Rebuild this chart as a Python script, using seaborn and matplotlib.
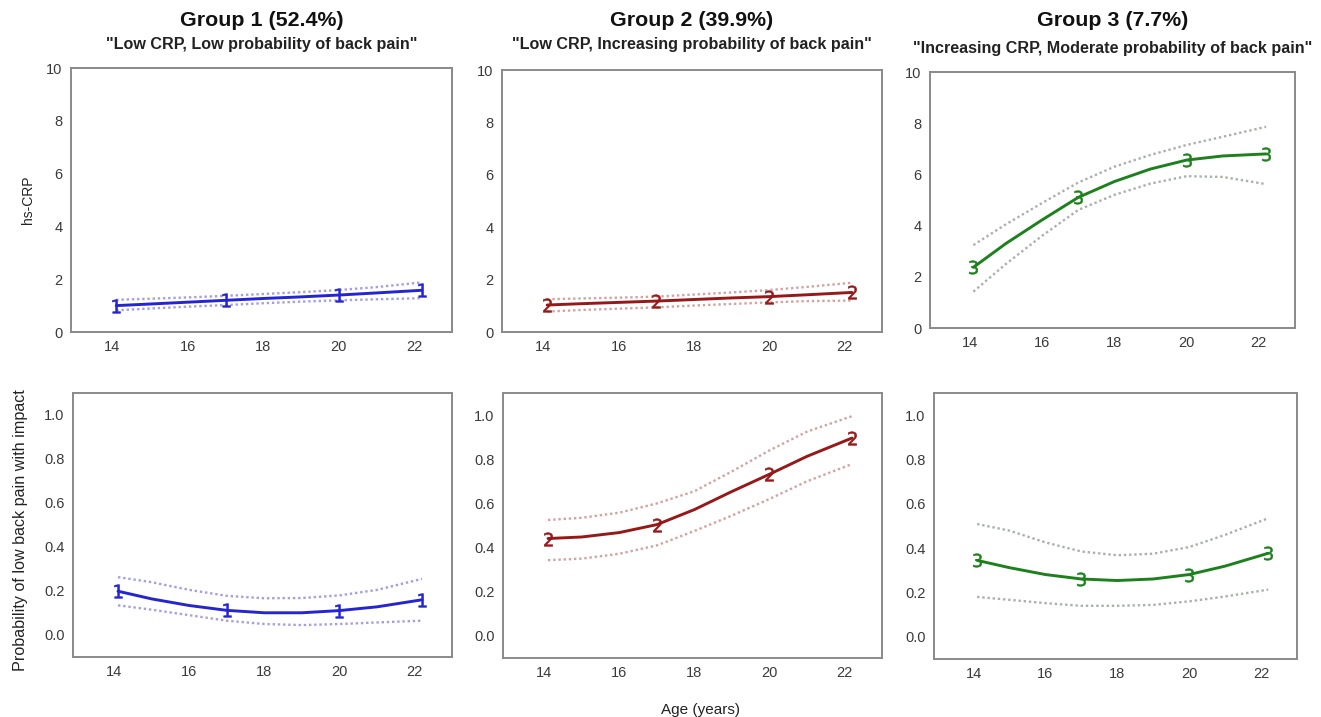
import matplotlib
matplotlib.use("Agg")
import matplotlib.pyplot as plt
import seaborn as sns

# Ages at which each fitted trajectory is drawn, and the survey waves that get a group marker
ages = [14.1, 15, 16, 17, 18, 19, 20, 21, 22.2]
waves = [14.1, 17.0, 20.0, 22.2]

group_titles = ["Group 1 (52.4%)", "Group 2 (39.9%)", "Group 3 (7.7%)"]
group_subtitles = [
    '"Low CRP, Low probability of back pain"',
    '"Low CRP, Increasing probability of back pain"',
    '"Increasing CRP, Moderate probability of back pain"',
]

# hs-CRP trajectories (estimate, lower and upper 95% limits)
crp_g1 = [1.00, 1.06, 1.13, 1.20, 1.27, 1.33, 1.40, 1.48, 1.58]
crp_g1_lo = [0.82, 0.89, 0.96, 1.02, 1.09, 1.15, 1.20, 1.24, 1.28]
crp_g1_hi = [1.22, 1.26, 1.31, 1.37, 1.44, 1.51, 1.59, 1.70, 1.88]

crp_g2 = [1.03, 1.08, 1.13, 1.18, 1.24, 1.30, 1.35, 1.42, 1.51]
crp_g2_lo = [0.78, 0.84, 0.89, 0.94, 1.01, 1.07, 1.13, 1.18, 1.20]
crp_g2_hi = [1.25, 1.28, 1.31, 1.35, 1.43, 1.51, 1.60, 1.72, 1.88]

crp_g3 = [2.37, 3.30, 4.22, 5.10, 5.72, 6.21, 6.56, 6.72, 6.80]
crp_g3_lo = [1.42, 2.50, 3.60, 4.61, 5.20, 5.64, 5.93, 5.90, 5.62]
crp_g3_hi = [3.24, 4.05, 4.88, 5.68, 6.30, 6.76, 7.15, 7.47, 7.86]

# Probability of low back pain with impact (estimate, lower and upper 95% limits)
lbp_g1 = [0.199, 0.164, 0.134, 0.112, 0.101, 0.101, 0.111, 0.128, 0.160]
lbp_g1_lo = [0.135, 0.115, 0.090, 0.065, 0.050, 0.045, 0.050, 0.057, 0.065]
lbp_g1_hi = [0.263, 0.240, 0.205, 0.178, 0.167, 0.168, 0.180, 0.205, 0.255]

lbp_g2 = [0.441, 0.448, 0.468, 0.504, 0.572, 0.654, 0.732, 0.813, 0.896]
lbp_g2_lo = [0.343, 0.350, 0.372, 0.410, 0.475, 0.545, 0.620, 0.700, 0.778]
lbp_g2_hi = [0.525, 0.535, 0.558, 0.600, 0.655, 0.745, 0.840, 0.925, 0.995]

lbp_g3 = [0.345, 0.312, 0.281, 0.261, 0.254, 0.261, 0.281, 0.319, 0.377]
lbp_g3_lo = [0.180, 0.167, 0.152, 0.140, 0.140, 0.144, 0.160, 0.182, 0.213]
lbp_g3_hi = [0.509, 0.479, 0.426, 0.385, 0.368, 0.375, 0.405, 0.460, 0.535]

line_colors = ["#2424d2", "#961818", "#1c801c"]
band_colors = ["#a49ee0", "#d2a2a2", "#a9b0a9"]
marker_glyphs = ["$1$", "$2$", "$3$"]

sns.set_theme(style="white")
plt.rcParams["font.family"] = ["Liberation Sans", "DejaVu Sans"]

fig = plt.figure(figsize=(13.21, 7.17), dpi=100)
W, H = 1321.0, 717.0


def px_axes(x0, y0, x1, y1):
    return fig.add_axes([x0 / W, 1 - y1 / H, (x1 - x0) / W, (y1 - y0) / H])


top_boxes = [(71, 68, 452, 332), (502, 70, 882, 332), (930, 72, 1295, 328)]
bottom_boxes = [(73, 393, 452, 657), (503, 393, 882, 658), (934, 393, 1297, 659)]

crp_sets = [(crp_g1, crp_g1_lo, crp_g1_hi), (crp_g2, crp_g2_lo, crp_g2_hi), (crp_g3, crp_g3_lo, crp_g3_hi)]
lbp_sets = [(lbp_g1, lbp_g1_lo, lbp_g1_hi), (lbp_g2, lbp_g2_lo, lbp_g2_hi), (lbp_g3, lbp_g3_lo, lbp_g3_hi)]

wave_idx = [ages.index(a) for a in waves]


def style_axes(ax):
    for sp in ax.spines.values():
        sp.set_color("#8a8a8a")
        sp.set_linewidth(1.4)
    ax.tick_params(axis="both", direction="out", length=3, width=1, color="#8a8a8a",
                   labelsize=10.5, labelcolor="#3a3a3a", pad=3)
    ax.set_xlim(12.9, 23.0)
    ax.set_xticks([14, 16, 18, 20, 22])


def draw_group(ax, series, g):
    est, lo, hi = series
    for band in (lo, hi):
        sns.lineplot(x=ages, y=band, ax=ax, color=band_colors[g], lw=1.7,
                     linestyle=(0, (1, 1.2)), estimator=None, sort=False)
    sns.lineplot(x=ages, y=est, ax=ax, color=line_colors[g], lw=2.1,
                 estimator=None, sort=False)
    sns.scatterplot(x=[ages[i] for i in wave_idx], y=[est[i] for i in wave_idx], ax=ax,
                    marker=marker_glyphs[g], s=95, color=line_colors[g],
                    edgecolor=line_colors[g], linewidth=0.4, zorder=5)


for g in range(3):
    ax = px_axes(*top_boxes[g])
    draw_group(ax, crp_sets[g], g)
    style_axes(ax)
    ax.set_ylim(0, 10)
    ax.set_yticks([0, 2, 4, 6, 8, 10])

    cx = (top_boxes[g][0] + top_boxes[g][2]) / 2 / W
    fig.text(cx, 1 - 20 / H, group_titles[g], ha="center", va="center",
             fontsize=15.4, fontweight="bold", color="#111111")
    fig.text(cx, 1 - (45 if g < 2 else 49) / H, group_subtitles[g], ha="center", va="center",
             fontsize=11.6, fontweight="bold", color="#222222")
    if g == 0:
        ax.set_ylabel("hs-CRP", fontsize=10, color="#222222")
        ax.yaxis.set_label_coords(-0.095, 0.5)

for g in range(3):
    ax = px_axes(*bottom_boxes[g])
    draw_group(ax, lbp_sets[g], g)
    style_axes(ax)
    ax.set_ylim(-0.1, 1.1)
    ax.set_yticks([0.0, 0.2, 0.4, 0.6, 0.8, 1.0])
    ax.set_yticklabels([f"{v:.1f}" for v in [0.0, 0.2, 0.4, 0.6, 0.8, 1.0]])
    if g == 0:
        ax.set_ylabel("Probability of low back pain with impact", fontsize=11.6, color="#222222")
        ax.yaxis.set_label_coords(-0.12, 0.48)
    if g == 1:
        ax.set_xlabel("Age (years)", fontsize=11, color="#222222")
        ax.xaxis.set_label_coords(0.52, -0.17)

fig.savefig("out.png", dpi=100, facecolor="white")
